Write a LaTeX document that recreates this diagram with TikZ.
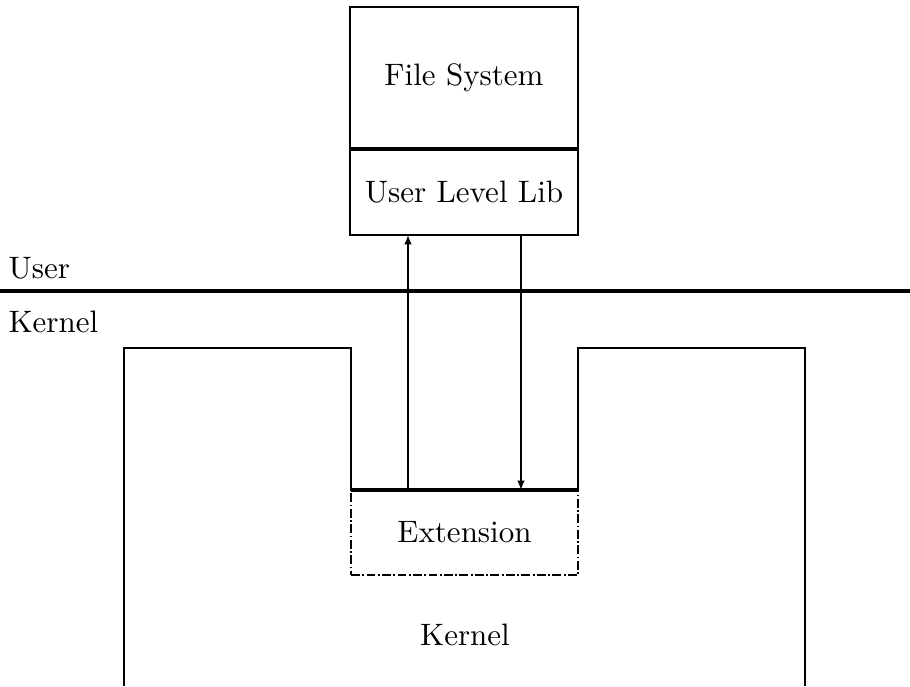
\documentclass[tikz,border=0pt]{standalone}
\usetikzlibrary{arrows.meta}
\begin{document}
\def\u{0.3226pt}
\begin{tikzpicture}[x=\u,y=-\u,
  box/.style={draw,line width=0.8pt,rectangle,inner sep=0pt,outer sep=0pt,font=\normalsize},
  extbox/.style={draw,line width=0.6pt,rectangle,inner sep=0pt,outer sep=0pt,
    dash pattern=on 2.8pt off 0.8pt on 0.6pt off 0.8pt},
  wall/.style={line width=0.6pt},
  flow/.style={line width=0.5pt,-{Latex[length=3pt,width=2.4pt]}},
  sidelabel/.style={anchor=west,inner sep=0pt}]
  \useasboundingbox (0,0) rectangle (910,686);

  % user-space stack
  \node[box,minimum width={228*\u},minimum height={142*\u}] (fs) at (464,78) {File System};
  \node[box,minimum width={228*\u},minimum height={86*\u}] (ull) at (464,192) {User Level Lib};
  \draw[line width=1.2pt] (fs.south west) -- (fs.south east);

  % user / kernel boundary
  \coordinate (bl) at (0,291);
  \coordinate (br) at (910,291);
  \draw[line width=1pt] (bl) -- (br);
  \node[sidelabel] (user) at (8,268) {User};
  \node[sidelabel] (kern) at (8,322) {Kernel};

  % kernel body with the extension slot
  \node[extbox,minimum width={227*\u},minimum height={85*\u}] (ext) at (464.5,532.5) {Extension};
  \coordinate (k1) at (124,686);
  \coordinate (k2) at (124,348);
  \coordinate (k3) at (805,348);
  \coordinate (k4) at (805,686);
  \draw[wall] (k1) -- (k2) -- (ext.north west |- k2) -- (ext.north west);
  \draw[line width=1pt] (ext.north west) -- (ext.north east);
  \draw[wall] (ext.north east) -- (ext.north east |- k3) -- (k3) -- (k4);
  \node (kbody) at (465,635) {Kernel};

  % calls across the boundary
  \coordinate (upx) at (408,0);
  \coordinate (downx) at (521,0);
  \draw[flow] (upx |- ext.north) -- (upx |- ull.south);
  \draw[flow] (downx |- ull.south) -- (downx |- ext.north);
\end{tikzpicture}
\end{document}
